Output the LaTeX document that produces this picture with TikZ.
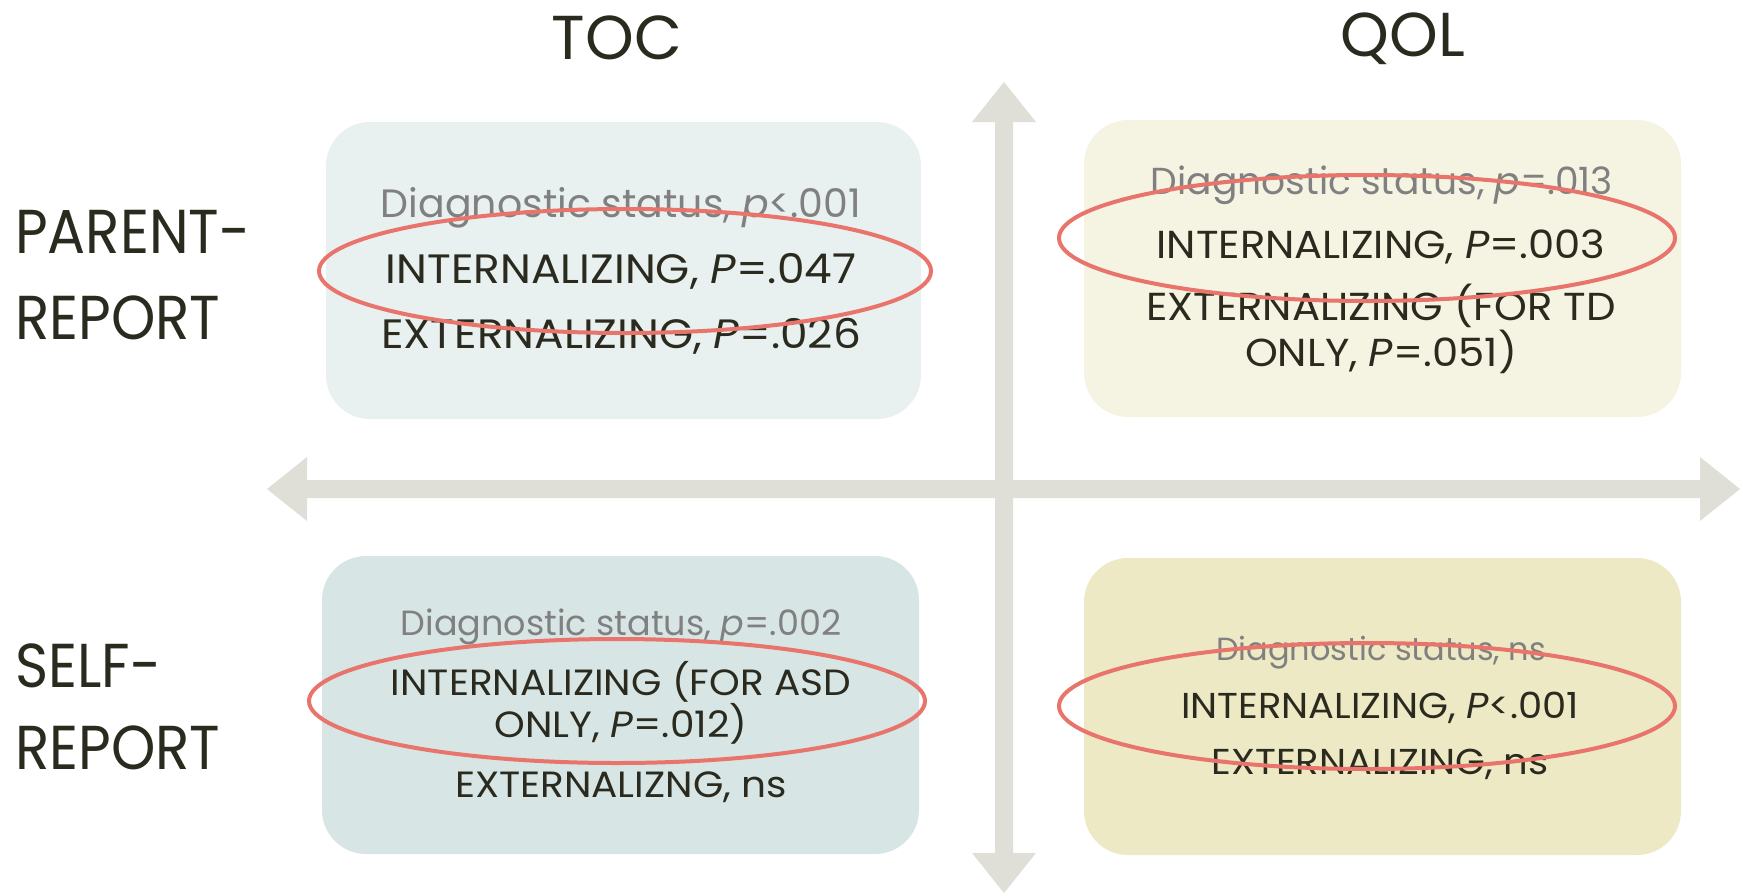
\documentclass[tikz,border=0pt]{standalone}
\usepackage{fontspec}
\setmainfont{Poppins}
\newfontfamily\capsfont[FakeStretch=1.07]{Poppins}
\newfontfamily\labelfont[FakeStretch=0.91]{Poppins}
\definecolor{boxA}{HTML}{E8F1F0}
\definecolor{boxB}{HTML}{F5F4E2}
\definecolor{boxC}{HTML}{D7E6E5}
\definecolor{boxD}{HTML}{EDE9C5}
\definecolor{axis}{HTML}{DFDFD7}
\definecolor{ring}{HTML}{E8746C}
\definecolor{graytxt}{HTML}{808080}
\definecolor{darktxt}{HTML}{2A2A1E}
\tikzset{
  panel/.style={fill=#1, draw=none, rounded corners=44pt},
  txt/.style={inner sep=0pt, anchor=base, text=darktxt, font=\capsfont\fontsize{#1}{#1}\selectfont},
  dtxt/.style={inner sep=0pt, anchor=base, text=graytxt, font=\fontsize{#1}{#1}\selectfont},
  big/.style={inner sep=0pt, text=darktxt, font=\fontsize{62}{70}\selectfont},
  rowlabel/.style={big, anchor=base west, font=\labelfont\fontsize{62}{70}\selectfont},
  oval/.style={draw=ring, line width=4pt}
}
\begin{document}
\begin{tikzpicture}[x=1pt,y=-1pt]
\useasboundingbox (0,0) rectangle (1743,895);
% panels
\fill[panel=boxA] (326,122) rectangle (921,419);
\fill[panel=boxB] (1084,120) rectangle (1681,417);
\fill[panel=boxC] (322,556) rectangle (919,854);
\fill[panel=boxD] (1084,558) rectangle (1681,855);
% axes
\fill[axis] (267,489) -- (307,457) -- (307,480) -- (1700,480) -- (1700,457) -- (1740,489)
  -- (1700,521) -- (1700,498) -- (307,498) -- (307,521) -- cycle;
\fill[axis] (1004,82) -- (1036,122) -- (1013,122) -- (1013,853) -- (1036,853) -- (1004,893)
  -- (972,853) -- (995,853) -- (995,122) -- (972,122) -- cycle;
% headings
\node[big, anchor=base] (toc) at (617,59) {TOC};
\node[big, anchor=base] (qol) at (1403,56) {QOL};
\node[rowlabel] (pr1) at (15,253) {PARENT-};
\node[rowlabel] (pr2) at (15,339) {REPORT};
\node[rowlabel] (sr1) at (15,687) {SELF-};
\node[rowlabel] (sr2) at (15,769) {REPORT};
% top-left
\node[dtxt=39.5] (a1) at (621,217) {Diagnostic status, \textit{p}<.001};
\node[txt=41] (a2) at (621,283) {INTERNALIZING, \textit{P}=.047};
\node[txt=41] (a3) at (621,348) {EXTERNALIZING, \textit{P}=.026};
% top-right
\node[dtxt=37.6] (b1) at (1382,194) {Diagnostic status, \textit{p}=.013};
\node[txt=39] (b2) at (1381,258) {INTERNALIZING, \textit{P}=.003};
\node[txt=39] (b3) at (1381,320) {EXTERNALIZING (FOR TD};
\node[txt=39] (b4) at (1381,366) {ONLY, \textit{P}=.051)};
% bottom-left
\node[dtxt=35] (c1) at (621,635) {Diagnostic status, \textit{p}=.002};
\node[txt=36.5] (c2) at (621,695) {INTERNALIZING (FOR ASD};
\node[txt=36.5] (c3) at (621,737) {ONLY, \textit{P}=.012)};
\node[txt=36.5] (c4) at (621,797) {EXTERNALIZNG, ns};
% bottom-right
\node[dtxt=32] (d1) at (1381,660) {Diagnostic status, ns};
\node[txt=36] (d2) at (1380,718) {INTERNALIZING, \textit{P}<.001};
\node[txt=36] (d3) at (1380,774) {EXTERNALIZING, ns};
% ovals
\draw[oval] (625,271) ellipse [x radius=306, y radius=62];
\draw[oval] (1367,238) ellipse [x radius=308, y radius=63];
\draw[oval] (617,701) ellipse [x radius=308, y radius=62];
\draw[oval] (1367,706) ellipse [x radius=308, y radius=63];
\end{tikzpicture}
\end{document}
